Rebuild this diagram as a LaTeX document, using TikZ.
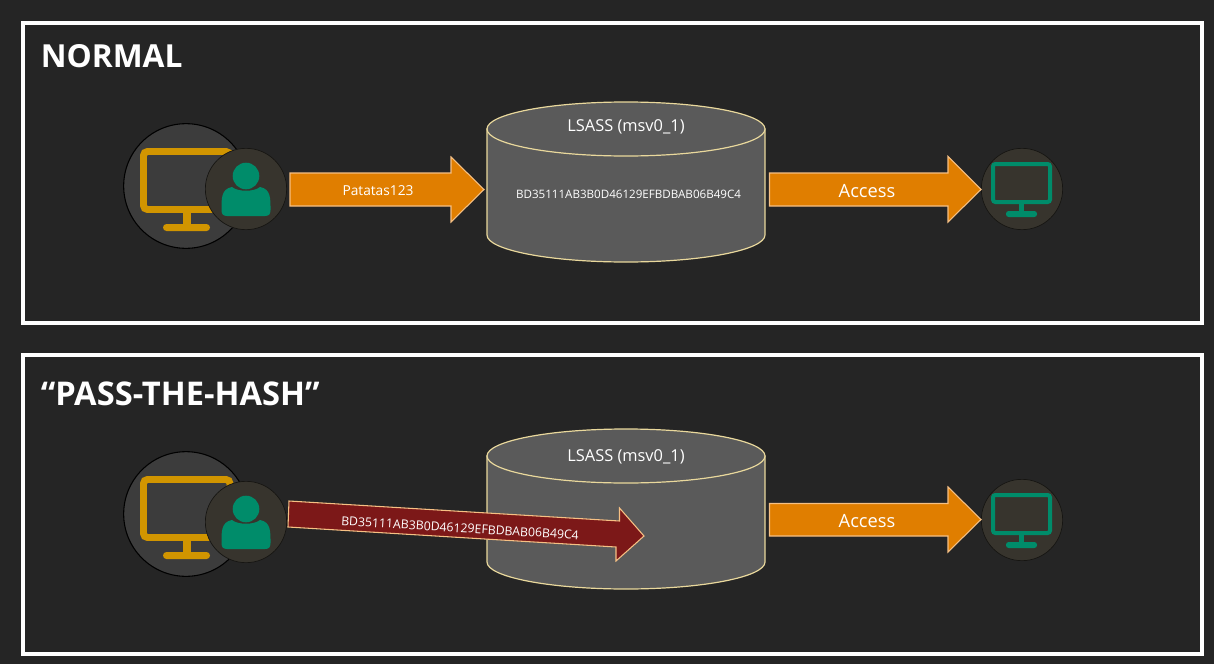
\documentclass[tikz,border=0pt]{standalone}
\usepackage{fontspec}
\setmainfont{Open Sans}
\definecolor{bgc}{HTML}{252525}
\definecolor{orangef}{HTML}{E07E00}
\definecolor{oranged}{HTML}{F6C084}
\definecolor{redf}{HTML}{7C1818}
\definecolor{cylf}{HTML}{5A5A5A}
\definecolor{cyld}{HTML}{E9D89C}
\definecolor{gold}{HTML}{D19500}
\definecolor{teal2}{HTML}{008C6A}
\definecolor{disc}{HTML}{3C3C3C}
\definecolor{disc2}{HTML}{37342D}
\tikzset{
  x=0.75pt,y=-0.75pt,
  frame/.style={draw=white,line width=3pt,fill=none},
  title/.style={text=white,font=\fontsize{23.8}{28}\selectfont\bfseries,anchor=west,inner sep=0pt},
  blockarrow/.style={fill=orangef,draw=oranged,line width=0.8pt,line join=miter},
  redarrow/.style={fill=redf,draw=oranged,line width=0.8pt,line join=miter},
  cyl/.style={fill=cylf,draw=cyld,line width=0.9pt},
  bigdisc/.style={circle,fill=disc,draw=black,line width=0.8pt,minimum size=93.5pt,inner sep=0pt},
  smalldisc/.style={circle,fill=disc2,draw=black!60!disc2,line width=0.5pt,minimum size=61pt,inner sep=0pt},
  lab/.style={text=white,inner sep=0pt},
}
\newcommand{\monitorbig}[2]{%
  \begin{scope}[shift={(#1,#2)}]
    \draw[gold,line width=5.2pt,rounded corners=3pt] (3.5,3.5) rectangle (90,61.5);
    \fill[gold] (43,62) rectangle (51,78);
    \fill[gold,rounded corners=2.6pt] (23,76) rectangle (70,83);
  \end{scope}}
\newcommand{\monitorsmall}[2]{%
  \begin{scope}[shift={(#1,#2)}]
    \draw[teal2,line width=3pt,rounded corners=1.8pt] (2,2) rectangle (59,40);
    \fill[teal2] (28,41) rectangle (33,50);
    \fill[teal2,rounded corners=2pt] (15,49) rectangle (46,55);
  \end{scope}}
\newcommand{\person}[2]{%
  \begin{scope}[shift={(#1,#2)}]
    \fill[teal2] (0,-13) circle[radius=13.3];
    \fill[teal2] (-24.5,21) .. controls (-24.5,10) and (-25,0) .. (-14,-2)
      .. controls (-8,3) and (8,3) .. (14,-2)
      .. controls (25,0) and (24.5,10) .. (24.5,21)
      .. controls (24.5,25) and (23,27) .. (19,27) -- (-19,27)
      .. controls (-23,27) and (-24.5,25) .. (-24.5,21) -- cycle;
  \end{scope}}
\newcommand{\cylinder}[1]{%
  \begin{scope}[shift={(0,#1)}]
    \path[cyl] (487,0) -- (487,106) .. controls (487,120.9) and (549.2,133) .. (626,133)
      .. controls (702.8,133) and (765,120.9) .. (765,106) -- (765,0) -- cycle;
    \draw[cyl] (626,0) ellipse[x radius=139,y radius=27];
  \end{scope}}
\begin{document}
\begin{tikzpicture}
\useasboundingbox (0,0) rectangle (1214,664);
\fill[bgc] (0,0) rectangle (1214,664);
\draw[frame] (22.5,22.5) rectangle (1201.5,322.5);
\draw[frame] (22.5,354.5) rectangle (1201.5,653.5);
\node[title] (t1) at (40.5,56) {NORMAL};
\node[title,font=\fontsize{24.5}{28}\selectfont\bfseries] (t2) at (40.5,394) {“PASS-THE-HASH”};
% top row
\node[bigdisc] (pc1) at (186,186) {};
\monitorbig{140}{148}
\node[smalldisc] (user1) at (246,189) {};
\person{246}{189}
\node[smalldisc] (srv1) at (1022,189) {};
\monitorsmall{991}{162}
\cylinder{129}
\node[lab,font=\fontsize{12.3}{14}\selectfont] (ls1) at (626,127) {LSASS (msv0\_1)};
\node[lab,font=\fontsize{8.7}{10}\selectfont] (h1) at (628.5,194.5) {BD35111AB3B0D46129EFBDBAB06B49C4};
\draw[blockarrow] (290,173) -- (451,173) -- (451,157) -- (484,189.5) -- (451,222) -- (451,206) -- (290,206) -- cycle;
\node[lab,font=\fontsize{10.3}{12}\selectfont] (pw) at (378,190.5) {Patatas123};
\draw[blockarrow] (769.5,173) -- (948,173) -- (948,156.5) -- (981,189.5) -- (948,222) -- (948,206) -- (769.5,206) -- cycle;
\node[lab,font=\fontsize{13.7}{16}\selectfont] (ac1) at (867,191) {Access};
% bottom row
\node[bigdisc] (pc2) at (186,514) {};
\monitorbig{140}{476}
\node[smalldisc] (user2) at (246,522) {};
\person{246}{522}
\node[smalldisc] (srv2) at (1022,520) {};
\monitorsmall{991}{493}
\cylinder{456}
\node[lab,font=\fontsize{12.3}{14}\selectfont] (ls2) at (626,457) {LSASS (msv0\_1)};
\draw[redarrow] (289,501) -- (619.5,521) -- (619.5,508) -- (644,536) -- (616,561) -- (616,547) -- (288,527) -- cycle;
\node[lab,rotate=-3.5,font=\fontsize{9.2}{10}\selectfont] (h2) at (460,528) {BD35111AB3B0D46129EFBDBAB06B49C4};
\draw[blockarrow] (769.5,503.5) -- (948,503.5) -- (948,487) -- (981,519.5) -- (948,552) -- (948,536) -- (769.5,536) -- cycle;
\node[lab,font=\fontsize{13.7}{16}\selectfont] (ac2) at (867,521) {Access};
\end{tikzpicture}
\end{document}
